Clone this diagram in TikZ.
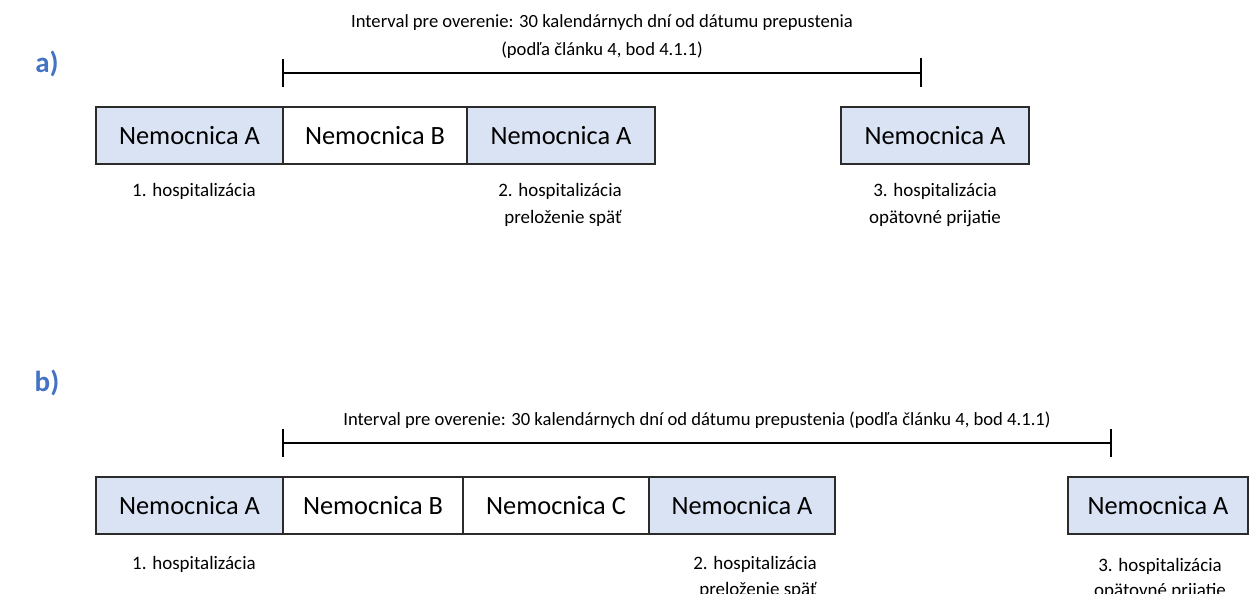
\documentclass[tikz,border=0pt]{standalone}
\usepackage{fontspec}
\setmainfont{Carlito}
\definecolor{boxblue}{HTML}{DAE3F3}
\definecolor{labelblue}{HTML}{4472C4}
\definecolor{edge}{HTML}{2B2B2B}
\begin{document}
\begin{tikzpicture}[x=0.02cm,y=-0.02cm,
  hbox/.style={draw=edge,line width=0.75pt,minimum height=1.14cm,inner sep=0pt,font=\fontsize{15}{18}\selectfont},
  hA/.style={hbox,fill=boxblue},
  hB/.style={hbox,fill=white},
  small/.style={font=\fontsize{10.8}{13}\selectfont,anchor=base,inner sep=0pt,text=black},
  head/.style={font=\fontsize{10.6}{13}\selectfont,anchor=base,inner sep=0pt,text=black},
  tag/.style={font=\bfseries\fontsize{16.5}{19}\selectfont,text=labelblue,anchor=base,inner sep=0pt},
  span/.style={line width=0.7pt,draw=black}]
\useasboundingbox (0,0) rectangle (1250,594);

% ---------- a) ----------
\node[tag] (ta) at (47,73) {a)};
\node[head] (inta1) at (602,28) {Interval pre overenie: 30 kalendárnych dní od dátumu prepustenia};
\node[head] (inta2) at (602,56) {(podľa článku 4, bod 4.1.1)};
\coordinate (aL) at (283,73);
\coordinate (aR) at (921,73);
\coordinate (aLt) at (283,59);
\coordinate (aLb) at (283,87);
\coordinate (aRt) at (921,58);
\coordinate (aRb) at (921,87);
\draw[span] (aL) -- (aR);
\draw[span] (aLt) -- (aLb);
\draw[span] (aRt) -- (aRb);

\node[hA,minimum width=3.74cm] (a1) at (189.5,135.5) {Nemocnica A};
\node[hB,minimum width=3.68cm] (a2) at (375,135.5) {Nemocnica B};
\node[hA,minimum width=3.76cm] (a3) at (561,135.5) {Nemocnica A};
\node[hA,minimum width=3.76cm] (a4) at (935,135.5) {Nemocnica A};

\node[small] (la1) at (194,197) {1. hospitalizácia};
\node[small] (la3a) at (560,197) {2. hospitalizácia};
\node[small] (la3b) at (563,224) {preloženie späť};
\node[small] (la4a) at (935,197) {3. hospitalizácia};
\node[small] (la4b) at (935,224) {opätovné prijatie};

% ---------- b) ----------
\node[tag] (tb) at (47,391) {b)};
\node[head] (intb) at (697,425) {Interval pre overenie: 30 kalendárnych dní od dátumu prepustenia (podľa článku 4, bod 4.1.1)};
\coordinate (bL) at (283,443);
\coordinate (bR) at (1111,443);
\coordinate (bLt) at (283,429);
\coordinate (bLb) at (283,457);
\coordinate (bRt) at (1111,429);
\coordinate (bRb) at (1111,457);
\draw[span] (bL) -- (bR);
\draw[span] (bLt) -- (bLb);
\draw[span] (bRt) -- (bRb);

\node[hA,minimum width=3.74cm] (b1) at (189.5,505.5) {Nemocnica A};
\node[hB,minimum width=3.60cm] (b2) at (373,505.5) {Nemocnica B};
\node[hB,minimum width=3.72cm] (b3) at (556,505.5) {Nemocnica C};
\node[hA,minimum width=3.72cm] (b4) at (742,505.5) {Nemocnica A};
\node[hA,minimum width=3.60cm] (b5) at (1158,505.5) {Nemocnica A};

\node[small] (lb1) at (194,569) {1. hospitalizácia};
\node[small] (lb4a) at (755,569) {2. hospitalizácia};
\node[small] (lb4b) at (758,595) {preloženie späť};
\node[small] (lb5a) at (1160,571) {3. hospitalizácia};
\node[small] (lb5b) at (1160,596) {opätovné prijatie};
\end{tikzpicture}
\end{document}
